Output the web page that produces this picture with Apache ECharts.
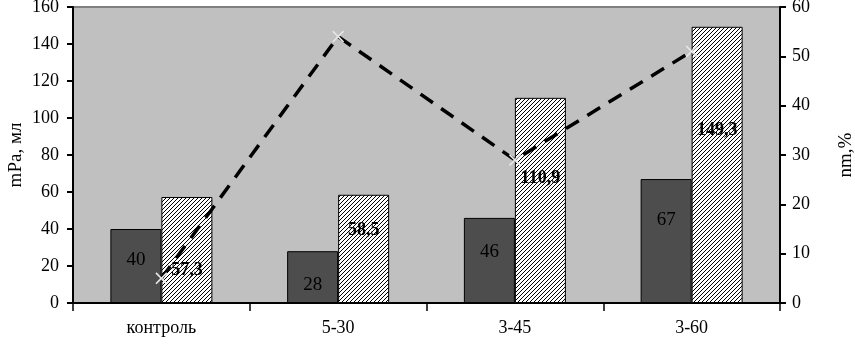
<!DOCTYPE html>
<html>
<head>
<meta charset="utf-8">
<script src="https://cdn.jsdelivr.net/npm/echarts@6/dist/echarts.min.js"></script>
<style>
  html, body { margin: 0; padding: 0; background: #fff; }
  #chart { width: 855px; height: 344px; }
</style>
</head>
<body>
<div id="chart"></div>
<script>
// данные
const categories = ['контроль', '5-30', '3-45', '3-60'];
const darkValues = [40, 28, 46, 67];
const hatchValues = [57.3, 58.5, 110.9, 149.3];
const lineValues = [5, 54, 29, 51];
const leftTicks = [0, 160, 20];
const rightTicks = [0, 60, 10];

// смещения подписей (как в исходнике, подписи сдвинуты вручную)
const darkLabelShift = [-6, 8, -8, -21];
const hatchLabelShift = [20, -19, -22, -35];

const font = 'Liberation Serif';

// штриховка
function makeHatch() {
  const c = document.createElement('canvas');
  c.width = 4; c.height = 4;
  const g = c.getContext('2d');
  g.fillStyle = '#fff';
  g.fillRect(0, 0, 4, 4);
  g.strokeStyle = '#000';
  g.lineWidth = 1;
  g.beginPath();
  g.moveTo(0, 4); g.lineTo(4, 0);
  g.moveTo(-1, 1); g.lineTo(1, -1);
  g.moveTo(3, 5); g.lineTo(5, 3);
  g.stroke();
  return c;
}

const chart = echarts.init(document.getElementById('chart'), null, { renderer: 'canvas' });

const option = {
  animation: false,
  grid: {
    left: 73, right: 75, top: 7, bottom: 41,
    outerBoundsMode: 'none',
    containLabel: false,
    show: true,
    backgroundColor: '#c0c0c0',
    borderColor: '#808080',
    borderWidth: 2
  },
  xAxis: {
    type: 'category',
    data: categories,
    axisLine: { lineStyle: { color: '#000', width: 2 } },
    axisTick: { show: true, length: 8, lineStyle: { color: '#000', width: 1.5 } },
    axisLabel: { color: '#000', fontFamily: font, fontSize: 18, margin: 16 }
  },
  yAxis: [
    {
      type: 'value',
      min: leftTicks[0], max: leftTicks[1], interval: leftTicks[2],
      name: 'mPa, мл',
      nameLocation: 'middle',
      nameRotate: 90,
      nameGap: 47,
      nameMoveOverlap: false,
      nameTextStyle: { color: '#000', fontFamily: font, fontSize: 19 },
      axisLine: { show: true, lineStyle: { color: '#000', width: 2 } },
      axisTick: { show: true, length: 6, lineStyle: { color: '#000', width: 2 } },
      axisLabel: { color: '#000', fontFamily: font, fontSize: 18, margin: 14 },
      splitLine: { show: false }
    },
    {
      type: 'value',
      min: rightTicks[0], max: rightTicks[1], interval: rightTicks[2],
      name: 'nm,%',
      nameLocation: 'middle',
      nameRotate: 90,
      nameGap: 57,
      nameMoveOverlap: false,
      nameTextStyle: { color: '#000', fontFamily: font, fontSize: 19 },
      axisLine: { show: true, lineStyle: { color: '#000', width: 2 } },
      axisTick: { show: true, length: 6, lineStyle: { color: '#000', width: 2 } },
      axisLabel: { color: '#000', fontFamily: font, fontSize: 18, margin: 12 },
      splitLine: { show: false }
    }
  ],
  series: [
    {
      type: 'bar',
      barWidth: 51,
      barGap: '0%',
      itemStyle: { color: '#4d4d4d', borderColor: '#000', borderWidth: 1 },
      label: {
        show: true, position: 'inside', color: '#000',
        fontFamily: font, fontSize: 19
      },
      data: darkValues.map((v, i) => ({ value: v, label: { offset: [0, darkLabelShift[i]] } })),
      z: 2
    },
    {
      type: 'bar',
      barWidth: 51,
      itemStyle: {
        color: { image: makeHatch(), repeat: 'repeat' },
        borderColor: '#000', borderWidth: 1
      },
      label: {
        show: true, position: 'inside', color: '#000',
        fontFamily: font, fontSize: 18, fontWeight: 'bold',
        formatter: p => String(p.value).replace('.', ',')
      },
      data: hatchValues.map((v, i) => ({ value: v, label: { offset: [0, hatchLabelShift[i]] } })),
      z: 2
    },
    {
      type: 'line',
      yAxisIndex: 1,
      data: lineValues,
      symbol: 'path://M0,1L1,0L5,4L9,0L10,1L6,5L10,9L9,10L5,6L1,10L0,9L4,5Z',
      symbolSize: 12,
      itemStyle: { color: '#e6e6e6' },
      lineStyle: { color: '#000', width: 3.5, type: [15, 10] },
      z: 3
    }
  ]
};

chart.setOption(option);
</script>
</body>
</html>
